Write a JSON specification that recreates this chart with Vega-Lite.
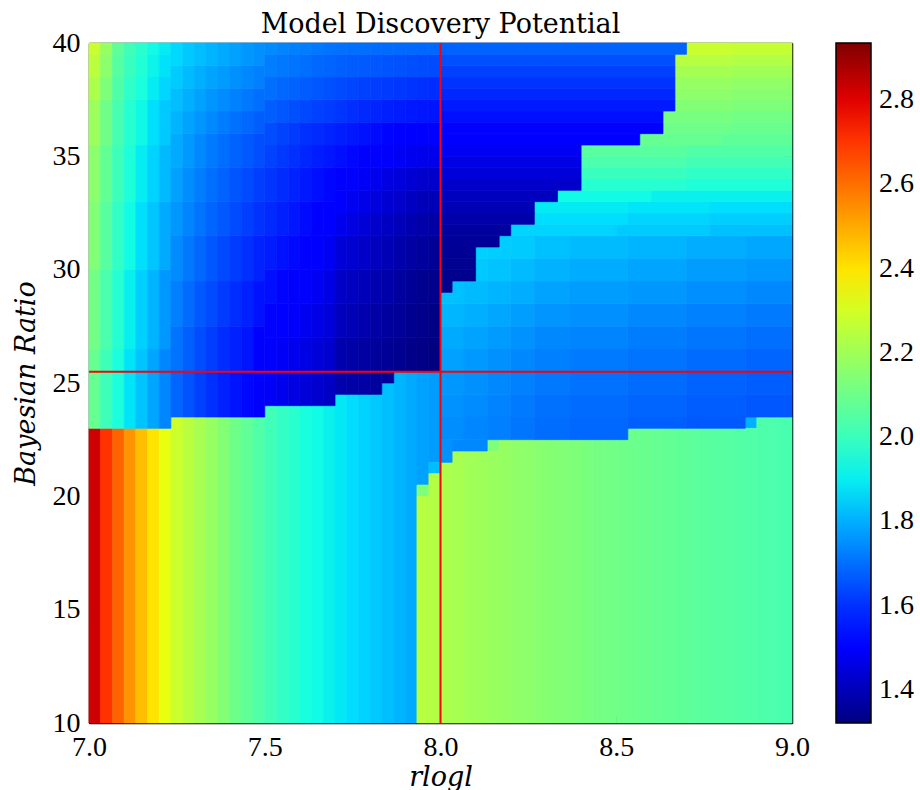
{
"$schema":"https://vega.github.io/schema/vega-lite/v6.json",
"width":703,"height":680,
"autosize":{"type":"none"},
"padding":{"left":89,"top":43,"right":128,"bottom":67},
"background":"white",
"title":{"text":"Model Discovery Potential","font":"DejaVu Serif","fontSize":27,"fontWeight":"normal","color":"black","offset":-10,"frame":"group","anchor":"middle"},
"config":{"font":"Liberation Serif","view":{"stroke":null},"axis":{"grid":false,"tickColor":"black","tickWidth":1,"tickSize":-8,"domainColor":"black","domainWidth":1.5,"labelFont":"Liberation Serif","labelFontSize":28,"labelColor":"black","titleFont":"DejaVu Serif","titleFontSize":27,"titleFontStyle":"italic","titleFontWeight":"normal","titleColor":"black","zindex":1,"labelFlush":false,"labelOverlap":false},"legend":{"labelFont":"Liberation Serif"}},
"resolve":{"axis":{"x":"independent","y":"independent"}},
"layer":[
{
"data":{"values":[
{"x":7,"x2":7.033,"y":10,"y2":23,"v":2.825},
{"x":7.033,"x2":7.067,"y":10,"y2":23,"v":2.705},
{"x":7.067,"x2":7.1,"y":10,"y2":23,"v":2.62},
{"x":7.1,"x2":7.133,"y":10,"y2":23,"v":2.537},
{"x":7.133,"x2":7.167,"y":10,"y2":23,"v":2.465},
{"x":7.167,"x2":7.2,"y":10,"y2":23,"v":2.4},
{"x":7.2,"x2":7.233,"y":10,"y2":23,"v":2.34},
{"x":7.233,"x2":7.267,"y":10,"y2":23.5,"v":2.288},
{"x":7.267,"x2":7.3,"y":10,"y2":23.5,"v":2.25},
{"x":7.3,"x2":7.333,"y":10,"y2":23.5,"v":2.211},
{"x":7.333,"x2":7.367,"y":10,"y2":23.5,"v":2.18},
{"x":7.367,"x2":7.4,"y":10,"y2":23.5,"v":2.141},
{"x":7.4,"x2":7.433,"y":10,"y2":23.5,"v":2.102},
{"x":7.433,"x2":7.467,"y":10,"y2":23.5,"v":2.073},
{"x":7.467,"x2":7.5,"y":10,"y2":23.5,"v":2.043},
{"x":7.5,"x2":7.533,"y":10,"y2":24,"v":2.014},
{"x":7.533,"x2":7.567,"y":10,"y2":24,"v":1.985},
{"x":7.567,"x2":7.6,"y":10,"y2":24,"v":1.965},
{"x":7.6,"x2":7.633,"y":10,"y2":24,"v":1.935},
{"x":7.633,"x2":7.667,"y":10,"y2":24,"v":1.92},
{"x":7.667,"x2":7.7,"y":10,"y2":24,"v":1.905},
{"x":7.7,"x2":7.733,"y":10,"y2":24.5,"v":1.89},
{"x":7.733,"x2":7.767,"y":10,"y2":24.5,"v":1.873},
{"x":7.767,"x2":7.8,"y":10,"y2":24.5,"v":1.858},
{"x":7.8,"x2":7.833,"y":10,"y2":24.5,"v":1.842},
{"x":7.833,"x2":7.867,"y":10,"y2":25,"v":1.826},
{"x":7.867,"x2":7.9,"y":10,"y2":25.5,"v":1.81},
{"x":7.9,"x2":7.933,"y":10,"y2":25.5,"v":1.793},
{"x":7.933,"x2":7.967,"y":20.5,"y2":25.5,"v":1.78},
{"x":7.967,"x2":8,"y":21.5,"y2":25.5,"v":1.77},
{"x":7.933,"x2":7.967,"y":20,"y2":20.5,"v":2.13},
{"x":7.967,"x2":8,"y":21,"y2":21.5,"v":1.825},
{"x":8.133,"x2":8.167,"y":22,"y2":22.5,"v":2.13},
{"x":8.867,"x2":8.9,"y":23,"y2":23.5,"v":1.8},
{"x":7.933,"x2":7.967,"y":10,"y2":20,"v":2.245},
{"x":7.967,"x2":8,"y":10,"y2":21,"v":2.235},
{"x":8,"x2":8.033,"y":10,"y2":21.5,"v":2.222},
{"x":8.033,"x2":8.067,"y":10,"y2":22,"v":2.213},
{"x":8.067,"x2":8.1,"y":10,"y2":22,"v":2.204},
{"x":8.1,"x2":8.133,"y":10,"y2":22,"v":2.195},
{"x":8.133,"x2":8.167,"y":10,"y2":22,"v":2.186},
{"x":8.167,"x2":8.2,"y":10,"y2":22.5,"v":2.177},
{"x":8.2,"x2":8.233,"y":10,"y2":22.5,"v":2.169},
{"x":8.233,"x2":8.267,"y":10,"y2":22.5,"v":2.161},
{"x":8.267,"x2":8.3,"y":10,"y2":22.5,"v":2.153},
{"x":8.3,"x2":8.333,"y":10,"y2":22.5,"v":2.145},
{"x":8.333,"x2":8.367,"y":10,"y2":22.5,"v":2.137},
{"x":8.367,"x2":8.4,"y":10,"y2":22.5,"v":2.13},
{"x":8.4,"x2":8.433,"y":10,"y2":22.5,"v":2.123},
{"x":8.433,"x2":8.467,"y":10,"y2":22.5,"v":2.116},
{"x":8.467,"x2":8.5,"y":10,"y2":22.5,"v":2.109},
{"x":8.5,"x2":8.533,"y":10,"y2":22.5,"v":2.102},
{"x":8.533,"x2":8.567,"y":10,"y2":23,"v":2.096},
{"x":8.567,"x2":8.6,"y":10,"y2":23,"v":2.09},
{"x":8.6,"x2":8.633,"y":10,"y2":23,"v":2.084},
{"x":8.633,"x2":8.667,"y":10,"y2":23,"v":2.078},
{"x":8.667,"x2":8.7,"y":10,"y2":23,"v":2.072},
{"x":8.7,"x2":8.733,"y":10,"y2":23,"v":2.067},
{"x":8.733,"x2":8.767,"y":10,"y2":23,"v":2.062},
{"x":8.767,"x2":8.8,"y":10,"y2":23,"v":2.057},
{"x":8.8,"x2":8.833,"y":10,"y2":23,"v":2.052},
{"x":8.833,"x2":8.867,"y":10,"y2":23,"v":2.047},
{"x":8.867,"x2":8.9,"y":10,"y2":23,"v":2.042},
{"x":8.9,"x2":8.933,"y":10,"y2":23.5,"v":2.037},
{"x":8.933,"x2":8.967,"y":10,"y2":23.5,"v":2.032},
{"x":8.967,"x2":9,"y":10,"y2":23.5,"v":2.027},
{"x":8,"x2":8.033,"y":21.5,"y2":22.5,"v":1.755},
{"x":8.033,"x2":8.133,"y":22,"y2":22.5,"v":1.74},
{"x":8,"x2":8.067,"y":22.5,"y2":23.5,"v":1.748},
{"x":8.067,"x2":8.133,"y":22.5,"y2":23.5,"v":1.736},
{"x":8.133,"x2":8.2,"y":22.5,"y2":23.5,"v":1.724},
{"x":8.2,"x2":8.267,"y":22.5,"y2":23.5,"v":1.711},
{"x":8.267,"x2":8.367,"y":22.5,"y2":23.5,"v":1.696},
{"x":8.367,"x2":8.533,"y":22.5,"y2":23.5,"v":1.687},
{"x":8.533,"x2":8.7,"y":23,"y2":23.5,"v":1.676},
{"x":8.7,"x2":8.867,"y":23,"y2":23.5,"v":1.664},
{"x":8,"x2":8.067,"y":23.5,"y2":24.5,"v":1.755},
{"x":8.067,"x2":8.133,"y":23.5,"y2":24.5,"v":1.743},
{"x":8.133,"x2":8.2,"y":23.5,"y2":24.5,"v":1.731},
{"x":8.2,"x2":8.267,"y":23.5,"y2":24.5,"v":1.718},
{"x":8.267,"x2":8.367,"y":23.5,"y2":24.5,"v":1.703},
{"x":8.367,"x2":8.533,"y":23.5,"y2":24.5,"v":1.694},
{"x":8.533,"x2":8.7,"y":23.5,"y2":24.5,"v":1.683},
{"x":8.7,"x2":8.867,"y":23.5,"y2":24.5,"v":1.671},
{"x":8.867,"x2":9,"y":23.5,"y2":24.5,"v":1.661},
{"x":8,"x2":8.067,"y":24.5,"y2":25.5,"v":1.765},
{"x":8.067,"x2":8.133,"y":24.5,"y2":25.5,"v":1.753},
{"x":8.133,"x2":8.2,"y":24.5,"y2":25.5,"v":1.741},
{"x":8.2,"x2":8.267,"y":24.5,"y2":25.5,"v":1.728},
{"x":8.267,"x2":8.367,"y":24.5,"y2":25.5,"v":1.713},
{"x":8.367,"x2":8.533,"y":24.5,"y2":25.5,"v":1.704},
{"x":8.533,"x2":8.7,"y":24.5,"y2":25.5,"v":1.693},
{"x":8.7,"x2":8.867,"y":24.5,"y2":25.5,"v":1.681},
{"x":8.867,"x2":9,"y":24.5,"y2":25.5,"v":1.671},
{"x":8,"x2":8.067,"y":25.5,"y2":26.5,"v":1.778},
{"x":8.067,"x2":8.133,"y":25.5,"y2":26.5,"v":1.766},
{"x":8.133,"x2":8.2,"y":25.5,"y2":26.5,"v":1.754},
{"x":8.2,"x2":8.267,"y":25.5,"y2":26.5,"v":1.741},
{"x":8.267,"x2":8.367,"y":25.5,"y2":26.5,"v":1.726},
{"x":8.367,"x2":8.533,"y":25.5,"y2":26.5,"v":1.717},
{"x":8.533,"x2":8.7,"y":25.5,"y2":26.5,"v":1.706},
{"x":8.7,"x2":8.867,"y":25.5,"y2":26.5,"v":1.694},
{"x":8.867,"x2":9,"y":25.5,"y2":26.5,"v":1.684},
{"x":8,"x2":8.067,"y":26.5,"y2":27.5,"v":1.793},
{"x":8.067,"x2":8.133,"y":26.5,"y2":27.5,"v":1.781},
{"x":8.133,"x2":8.2,"y":26.5,"y2":27.5,"v":1.769},
{"x":8.2,"x2":8.267,"y":26.5,"y2":27.5,"v":1.756},
{"x":8.267,"x2":8.367,"y":26.5,"y2":27.5,"v":1.741},
{"x":8.367,"x2":8.533,"y":26.5,"y2":27.5,"v":1.732},
{"x":8.533,"x2":8.7,"y":26.5,"y2":27.5,"v":1.721},
{"x":8.7,"x2":8.867,"y":26.5,"y2":27.5,"v":1.709},
{"x":8.867,"x2":9,"y":26.5,"y2":27.5,"v":1.699},
{"x":8,"x2":8.067,"y":27.5,"y2":28.5,"v":1.812},
{"x":8.067,"x2":8.133,"y":27.5,"y2":28.5,"v":1.8},
{"x":8.133,"x2":8.2,"y":27.5,"y2":28.5,"v":1.788},
{"x":8.2,"x2":8.267,"y":27.5,"y2":28.5,"v":1.775},
{"x":8.267,"x2":8.367,"y":27.5,"y2":28.5,"v":1.76},
{"x":8.367,"x2":8.533,"y":27.5,"y2":28.5,"v":1.751},
{"x":8.533,"x2":8.7,"y":27.5,"y2":28.5,"v":1.74},
{"x":8.7,"x2":8.867,"y":27.5,"y2":28.5,"v":1.728},
{"x":8.867,"x2":9,"y":27.5,"y2":28.5,"v":1.718},
{"x":8,"x2":8.033,"y":28.5,"y2":29,"v":1.83},
{"x":8.033,"x2":8.067,"y":28.5,"y2":29.5,"v":1.83},
{"x":8.067,"x2":8.133,"y":28.5,"y2":29.5,"v":1.822},
{"x":8.133,"x2":8.2,"y":28.5,"y2":29.5,"v":1.81},
{"x":8.2,"x2":8.267,"y":28.5,"y2":29.5,"v":1.797},
{"x":8.267,"x2":8.367,"y":28.5,"y2":29.5,"v":1.782},
{"x":8.367,"x2":8.533,"y":28.5,"y2":29.5,"v":1.773},
{"x":8.533,"x2":8.7,"y":28.5,"y2":29.5,"v":1.762},
{"x":8.7,"x2":8.867,"y":28.5,"y2":29.5,"v":1.75},
{"x":8.867,"x2":9,"y":28.5,"y2":29.5,"v":1.74},
{"x":8.1,"x2":8.133,"y":29.5,"y2":30.5,"v":1.842},
{"x":8.133,"x2":8.2,"y":29.5,"y2":30.5,"v":1.833},
{"x":8.2,"x2":8.267,"y":29.5,"y2":30.5,"v":1.82},
{"x":8.267,"x2":8.367,"y":29.5,"y2":30.5,"v":1.805},
{"x":8.367,"x2":8.533,"y":29.5,"y2":30.5,"v":1.796},
{"x":8.533,"x2":8.7,"y":29.5,"y2":30.5,"v":1.785},
{"x":8.7,"x2":8.867,"y":29.5,"y2":30.5,"v":1.773},
{"x":8.867,"x2":9,"y":29.5,"y2":30.5,"v":1.763},
{"x":8.1,"x2":8.133,"y":30.5,"y2":31,"v":1.855},
{"x":8.133,"x2":8.167,"y":30.5,"y2":31,"v":1.85},
{"x":8.167,"x2":8.2,"y":30.5,"y2":31.5,"v":1.848},
{"x":8.2,"x2":8.267,"y":30.5,"y2":31.5,"v":1.845},
{"x":8.267,"x2":8.367,"y":30.5,"y2":31.5,"v":1.83},
{"x":8.367,"x2":8.533,"y":30.5,"y2":31.5,"v":1.821},
{"x":8.533,"x2":8.7,"y":30.5,"y2":31.5,"v":1.81},
{"x":8.7,"x2":8.867,"y":30.5,"y2":31.5,"v":1.798},
{"x":8.867,"x2":9,"y":30.5,"y2":31.5,"v":1.788},
{"x":8.2,"x2":8.5,"y":31.5,"y2":32,"v":1.86},
{"x":8.5,"x2":8.767,"y":31.5,"y2":32,"v":1.845},
{"x":8.767,"x2":9,"y":31.5,"y2":32,"v":1.83},
{"x":8.267,"x2":8.533,"y":32,"y2":32.5,"v":1.875},
{"x":8.533,"x2":8.767,"y":32,"y2":32.5,"v":1.86},
{"x":8.767,"x2":9,"y":32,"y2":32.5,"v":1.85},
{"x":8.267,"x2":8.533,"y":32.5,"y2":33,"v":1.895},
{"x":8.533,"x2":8.767,"y":32.5,"y2":33,"v":1.885},
{"x":8.767,"x2":9,"y":32.5,"y2":33,"v":1.875},
{"x":8.333,"x2":8.6,"y":33,"y2":33.5,"v":1.92},
{"x":8.6,"x2":9,"y":33,"y2":33.5,"v":1.905},
{"x":8.4,"x2":8.7,"y":33.5,"y2":34,"v":1.96},
{"x":8.7,"x2":9,"y":33.5,"y2":34,"v":1.945},
{"x":8.4,"x2":8.7,"y":34,"y2":34.5,"v":1.995},
{"x":8.7,"x2":9,"y":34,"y2":34.5,"v":1.98},
{"x":8.4,"x2":8.7,"y":34.5,"y2":35,"v":2.03},
{"x":8.7,"x2":9,"y":34.5,"y2":35,"v":2.015},
{"x":8.4,"x2":8.7,"y":35,"y2":35.5,"v":2.06},
{"x":8.7,"x2":9,"y":35,"y2":35.5,"v":2.045},
{"x":8.567,"x2":8.8,"y":35.5,"y2":36,"v":2.085},
{"x":8.8,"x2":9,"y":35.5,"y2":36,"v":2.07},
{"x":8.633,"x2":8.833,"y":36,"y2":36.5,"v":2.1},
{"x":8.833,"x2":9,"y":36,"y2":36.5,"v":2.09},
{"x":8.633,"x2":8.833,"y":36.5,"y2":37,"v":2.12},
{"x":8.833,"x2":9,"y":36.5,"y2":37,"v":2.11},
{"x":8.667,"x2":8.833,"y":37,"y2":37.5,"v":2.14},
{"x":8.833,"x2":9,"y":37,"y2":37.5,"v":2.13},
{"x":8.667,"x2":8.833,"y":37.5,"y2":38,"v":2.16},
{"x":8.833,"x2":9,"y":37.5,"y2":38,"v":2.15},
{"x":8.667,"x2":8.833,"y":38,"y2":38.5,"v":2.18},
{"x":8.833,"x2":9,"y":38,"y2":38.5,"v":2.17},
{"x":8.667,"x2":8.833,"y":38.5,"y2":39,"v":2.21},
{"x":8.833,"x2":9,"y":38.5,"y2":39,"v":2.2},
{"x":8.667,"x2":8.833,"y":39,"y2":39.5,"v":2.245},
{"x":8.833,"x2":9,"y":39,"y2":39.5,"v":2.235},
{"x":8.7,"x2":8.833,"y":39.5,"y2":40,"v":2.28},
{"x":8.833,"x2":9,"y":39.5,"y2":40,"v":2.27},
{"x":8,"x2":8.033,"y":29,"y2":29.5,"v":1.338},
{"x":8,"x2":8.1,"y":29.5,"y2":30,"v":1.342},
{"x":8,"x2":8.1,"y":30,"y2":30.5,"v":1.346},
{"x":8,"x2":8.1,"y":30.5,"y2":31,"v":1.351},
{"x":8,"x2":8.167,"y":31,"y2":31.5,"v":1.357},
{"x":8,"x2":8.2,"y":31.5,"y2":32,"v":1.366},
{"x":8,"x2":8.267,"y":32,"y2":32.5,"v":1.38},
{"x":8,"x2":8.267,"y":32.5,"y2":33,"v":1.395},
{"x":8,"x2":8.333,"y":33,"y2":33.5,"v":1.41},
{"x":8,"x2":8.4,"y":33.5,"y2":34,"v":1.425},
{"x":8,"x2":8.4,"y":34,"y2":34.5,"v":1.445},
{"x":8,"x2":8.4,"y":34.5,"y2":35,"v":1.465},
{"x":8,"x2":8.4,"y":35,"y2":35.5,"v":1.485},
{"x":8,"x2":8.567,"y":35.5,"y2":36,"v":1.505},
{"x":8,"x2":8.633,"y":36,"y2":36.5,"v":1.525},
{"x":8,"x2":8.633,"y":36.5,"y2":37,"v":1.545},
{"x":8,"x2":8.667,"y":37,"y2":37.5,"v":1.565},
{"x":8,"x2":8.667,"y":37.5,"y2":38,"v":1.585},
{"x":8,"x2":8.667,"y":38,"y2":38.5,"v":1.605},
{"x":8,"x2":8.667,"y":38.5,"y2":39,"v":1.625},
{"x":8,"x2":8.667,"y":39,"y2":39.5,"v":1.65},
{"x":8,"x2":8.7,"y":39.5,"y2":40,"v":1.68},
{"x":7,"x2":7.033,"y":23,"y2":26.5,"v":2.085},
{"x":7,"x2":7.033,"y":26.5,"y2":30,"v":2.11},
{"x":7,"x2":7.033,"y":30,"y2":33,"v":2.136},
{"x":7,"x2":7.033,"y":33,"y2":35.5,"v":2.158},
{"x":7,"x2":7.033,"y":35.5,"y2":37.5,"v":2.19},
{"x":7,"x2":7.033,"y":37.5,"y2":38.5,"v":2.222},
{"x":7,"x2":7.033,"y":38.5,"y2":39.5,"v":2.25},
{"x":7,"x2":7.033,"y":39.5,"y2":40,"v":2.28},
{"x":7.033,"x2":7.067,"y":23,"y2":26.5,"v":2.005},
{"x":7.033,"x2":7.067,"y":26.5,"y2":30,"v":2.03},
{"x":7.033,"x2":7.067,"y":30,"y2":33,"v":2.056},
{"x":7.033,"x2":7.067,"y":33,"y2":35.5,"v":2.078},
{"x":7.033,"x2":7.067,"y":35.5,"y2":37.5,"v":2.103},
{"x":7.033,"x2":7.067,"y":37.5,"y2":38.5,"v":2.132},
{"x":7.033,"x2":7.067,"y":38.5,"y2":39.5,"v":2.158},
{"x":7.033,"x2":7.067,"y":39.5,"y2":40,"v":2.18},
{"x":7.067,"x2":7.1,"y":23,"y2":26.5,"v":1.939},
{"x":7.067,"x2":7.1,"y":26.5,"y2":30,"v":1.958},
{"x":7.067,"x2":7.1,"y":30,"y2":33,"v":1.981},
{"x":7.067,"x2":7.1,"y":33,"y2":35.5,"v":2.003},
{"x":7.067,"x2":7.1,"y":35.5,"y2":37.5,"v":2.025},
{"x":7.067,"x2":7.1,"y":37.5,"y2":38.5,"v":2.041},
{"x":7.067,"x2":7.1,"y":38.5,"y2":39.5,"v":2.055},
{"x":7.067,"x2":7.1,"y":39.5,"y2":40,"v":2.07},
{"x":7.1,"x2":7.133,"y":23,"y2":26.5,"v":1.884},
{"x":7.1,"x2":7.133,"y":26.5,"y2":30,"v":1.901},
{"x":7.1,"x2":7.133,"y":30,"y2":33,"v":1.921},
{"x":7.1,"x2":7.133,"y":33,"y2":35.5,"v":1.942},
{"x":7.1,"x2":7.133,"y":35.5,"y2":37.5,"v":1.96},
{"x":7.1,"x2":7.133,"y":37.5,"y2":38.5,"v":1.978},
{"x":7.1,"x2":7.133,"y":38.5,"y2":39.5,"v":1.995},
{"x":7.1,"x2":7.133,"y":39.5,"y2":40,"v":2.01},
{"x":7.133,"x2":7.167,"y":23,"y2":26.5,"v":1.834},
{"x":7.133,"x2":7.167,"y":26.5,"y2":30,"v":1.853},
{"x":7.133,"x2":7.167,"y":30,"y2":33,"v":1.876},
{"x":7.133,"x2":7.167,"y":33,"y2":35.5,"v":1.897},
{"x":7.133,"x2":7.167,"y":35.5,"y2":37.5,"v":1.917},
{"x":7.133,"x2":7.167,"y":37.5,"y2":38.5,"v":1.936},
{"x":7.133,"x2":7.167,"y":38.5,"y2":39.5,"v":1.95},
{"x":7.133,"x2":7.167,"y":39.5,"y2":40,"v":1.965},
{"x":7.167,"x2":7.2,"y":23,"y2":26.5,"v":1.785},
{"x":7.167,"x2":7.2,"y":26.5,"y2":30,"v":1.808},
{"x":7.167,"x2":7.2,"y":30,"y2":33,"v":1.835},
{"x":7.167,"x2":7.2,"y":33,"y2":35.5,"v":1.857},
{"x":7.167,"x2":7.2,"y":35.5,"y2":37.5,"v":1.877},
{"x":7.167,"x2":7.2,"y":37.5,"y2":38.5,"v":1.896},
{"x":7.167,"x2":7.2,"y":38.5,"y2":39.5,"v":1.909},
{"x":7.167,"x2":7.2,"y":39.5,"y2":40,"v":1.92},
{"x":7.2,"x2":7.233,"y":23,"y2":26.5,"v":1.736},
{"x":7.2,"x2":7.233,"y":26.5,"y2":30,"v":1.765},
{"x":7.2,"x2":7.233,"y":30,"y2":33,"v":1.795},
{"x":7.2,"x2":7.233,"y":33,"y2":35.5,"v":1.818},
{"x":7.2,"x2":7.233,"y":35.5,"y2":37.5,"v":1.842},
{"x":7.2,"x2":7.233,"y":37.5,"y2":38.5,"v":1.863},
{"x":7.2,"x2":7.233,"y":38.5,"y2":39.5,"v":1.88},
{"x":7.2,"x2":7.233,"y":39.5,"y2":40,"v":1.895},
{"x":7.233,"x2":7.267,"y":23.5,"y2":25.5,"v":1.685},
{"x":7.233,"x2":7.267,"y":25.5,"y2":27.5,"v":1.705},
{"x":7.233,"x2":7.267,"y":27.5,"y2":29.5,"v":1.725},
{"x":7.233,"x2":7.267,"y":29.5,"y2":31.5,"v":1.745},
{"x":7.233,"x2":7.267,"y":31.5,"y2":33,"v":1.763},
{"x":7.233,"x2":7.267,"y":33,"y2":34.5,"v":1.778},
{"x":7.233,"x2":7.267,"y":34.5,"y2":36,"v":1.793},
{"x":7.233,"x2":7.267,"y":36,"y2":37,"v":1.808},
{"x":7.233,"x2":7.267,"y":37,"y2":38,"v":1.825},
{"x":7.233,"x2":7.267,"y":38,"y2":39,"v":1.845},
{"x":7.233,"x2":7.267,"y":39,"y2":40,"v":1.867},
{"x":7.267,"x2":7.3,"y":23.5,"y2":25.5,"v":1.655},
{"x":7.267,"x2":7.3,"y":25.5,"y2":27.5,"v":1.675},
{"x":7.267,"x2":7.3,"y":27.5,"y2":29.5,"v":1.695},
{"x":7.267,"x2":7.3,"y":29.5,"y2":31.5,"v":1.715},
{"x":7.267,"x2":7.3,"y":31.5,"y2":33,"v":1.733},
{"x":7.267,"x2":7.3,"y":33,"y2":34.5,"v":1.748},
{"x":7.267,"x2":7.3,"y":34.5,"y2":36,"v":1.766},
{"x":7.267,"x2":7.3,"y":36,"y2":37,"v":1.783},
{"x":7.267,"x2":7.3,"y":37,"y2":38,"v":1.8},
{"x":7.267,"x2":7.3,"y":38,"y2":39,"v":1.82},
{"x":7.267,"x2":7.3,"y":39,"y2":40,"v":1.842},
{"x":7.3,"x2":7.333,"y":23.5,"y2":25.5,"v":1.625},
{"x":7.3,"x2":7.333,"y":25.5,"y2":27.5,"v":1.645},
{"x":7.3,"x2":7.333,"y":27.5,"y2":29.5,"v":1.665},
{"x":7.3,"x2":7.333,"y":29.5,"y2":31.5,"v":1.686},
{"x":7.3,"x2":7.333,"y":31.5,"y2":33,"v":1.708},
{"x":7.3,"x2":7.333,"y":33,"y2":34.5,"v":1.723},
{"x":7.3,"x2":7.333,"y":34.5,"y2":36,"v":1.741},
{"x":7.3,"x2":7.333,"y":36,"y2":37,"v":1.76},
{"x":7.3,"x2":7.333,"y":37,"y2":38,"v":1.78},
{"x":7.3,"x2":7.333,"y":38,"y2":39,"v":1.8},
{"x":7.3,"x2":7.333,"y":39,"y2":40,"v":1.825},
{"x":7.333,"x2":7.367,"y":23.5,"y2":25.5,"v":1.599},
{"x":7.333,"x2":7.367,"y":25.5,"y2":27.5,"v":1.62},
{"x":7.333,"x2":7.367,"y":27.5,"y2":29.5,"v":1.64},
{"x":7.333,"x2":7.367,"y":29.5,"y2":31.5,"v":1.661},
{"x":7.333,"x2":7.367,"y":31.5,"y2":33,"v":1.683},
{"x":7.333,"x2":7.367,"y":33,"y2":34.5,"v":1.698},
{"x":7.333,"x2":7.367,"y":34.5,"y2":36,"v":1.719},
{"x":7.333,"x2":7.367,"y":36,"y2":37,"v":1.74},
{"x":7.333,"x2":7.367,"y":37,"y2":38,"v":1.76},
{"x":7.333,"x2":7.367,"y":38,"y2":39,"v":1.784},
{"x":7.333,"x2":7.367,"y":39,"y2":40,"v":1.81},
{"x":7.367,"x2":7.4,"y":23.5,"y2":25.5,"v":1.576},
{"x":7.367,"x2":7.4,"y":25.5,"y2":27.5,"v":1.595},
{"x":7.367,"x2":7.4,"y":27.5,"y2":29.5,"v":1.616},
{"x":7.367,"x2":7.4,"y":29.5,"y2":31.5,"v":1.639},
{"x":7.367,"x2":7.4,"y":31.5,"y2":33,"v":1.663},
{"x":7.367,"x2":7.4,"y":33,"y2":34.5,"v":1.678},
{"x":7.367,"x2":7.4,"y":34.5,"y2":36,"v":1.699},
{"x":7.367,"x2":7.4,"y":36,"y2":37,"v":1.722},
{"x":7.367,"x2":7.4,"y":37,"y2":38,"v":1.745},
{"x":7.367,"x2":7.4,"y":38,"y2":39,"v":1.769},
{"x":7.367,"x2":7.4,"y":39,"y2":40,"v":1.794},
{"x":7.4,"x2":7.433,"y":23.5,"y2":25.5,"v":1.553},
{"x":7.4,"x2":7.433,"y":25.5,"y2":27.5,"v":1.575},
{"x":7.4,"x2":7.433,"y":27.5,"y2":29.5,"v":1.595},
{"x":7.4,"x2":7.433,"y":29.5,"y2":31.5,"v":1.618},
{"x":7.4,"x2":7.433,"y":31.5,"y2":33,"v":1.643},
{"x":7.4,"x2":7.433,"y":33,"y2":34.5,"v":1.658},
{"x":7.4,"x2":7.433,"y":34.5,"y2":36,"v":1.679},
{"x":7.4,"x2":7.433,"y":36,"y2":37,"v":1.703},
{"x":7.4,"x2":7.433,"y":37,"y2":38,"v":1.73},
{"x":7.4,"x2":7.433,"y":38,"y2":39,"v":1.754},
{"x":7.4,"x2":7.433,"y":39,"y2":40,"v":1.779},
{"x":7.433,"x2":7.467,"y":23.5,"y2":25.5,"v":1.535},
{"x":7.433,"x2":7.467,"y":25.5,"y2":27.5,"v":1.555},
{"x":7.433,"x2":7.467,"y":27.5,"y2":29.5,"v":1.575},
{"x":7.433,"x2":7.467,"y":29.5,"y2":31.5,"v":1.598},
{"x":7.433,"x2":7.467,"y":31.5,"y2":33,"v":1.623},
{"x":7.433,"x2":7.467,"y":33,"y2":34.5,"v":1.642},
{"x":7.433,"x2":7.467,"y":34.5,"y2":36,"v":1.664},
{"x":7.433,"x2":7.467,"y":36,"y2":37,"v":1.688},
{"x":7.433,"x2":7.467,"y":37,"y2":38,"v":1.715},
{"x":7.433,"x2":7.467,"y":38,"y2":39,"v":1.739},
{"x":7.433,"x2":7.467,"y":39,"y2":40,"v":1.764},
{"x":7.467,"x2":7.5,"y":23.5,"y2":25.5,"v":1.497},
{"x":7.467,"x2":7.5,"y":25.5,"y2":27.5,"v":1.523},
{"x":7.467,"x2":7.5,"y":27.5,"y2":29.5,"v":1.55},
{"x":7.467,"x2":7.5,"y":29.5,"y2":31.5,"v":1.578},
{"x":7.467,"x2":7.5,"y":31.5,"y2":33,"v":1.603},
{"x":7.467,"x2":7.5,"y":33,"y2":34.5,"v":1.622},
{"x":7.467,"x2":7.5,"y":34.5,"y2":36,"v":1.647},
{"x":7.467,"x2":7.5,"y":36,"y2":37,"v":1.673},
{"x":7.467,"x2":7.5,"y":37,"y2":38,"v":1.7},
{"x":7.467,"x2":7.5,"y":38,"y2":39,"v":1.724},
{"x":7.467,"x2":7.5,"y":39,"y2":40,"v":1.751},
{"x":7.5,"x2":7.533,"y":24,"y2":25.5,"v":1.489},
{"x":7.5,"x2":7.533,"y":25.5,"y2":27,"v":1.506},
{"x":7.5,"x2":7.533,"y":27,"y2":28.5,"v":1.525},
{"x":7.5,"x2":7.533,"y":28.5,"y2":30,"v":1.545},
{"x":7.5,"x2":7.533,"y":30,"y2":31.5,"v":1.566},
{"x":7.5,"x2":7.533,"y":31.5,"y2":33,"v":1.588},
{"x":7.5,"x2":7.533,"y":33,"y2":34.5,"v":1.607},
{"x":7.5,"x2":7.533,"y":34.5,"y2":35.5,"v":1.628},
{"x":7.5,"x2":7.533,"y":35.5,"y2":36.5,"v":1.645},
{"x":7.5,"x2":7.533,"y":36.5,"y2":37.5,"v":1.672},
{"x":7.5,"x2":7.533,"y":37.5,"y2":38.5,"v":1.697},
{"x":7.5,"x2":7.533,"y":38.5,"y2":39.5,"v":1.723},
{"x":7.5,"x2":7.533,"y":39.5,"y2":40,"v":1.745},
{"x":7.533,"x2":7.567,"y":24,"y2":25.5,"v":1.474},
{"x":7.533,"x2":7.567,"y":25.5,"y2":27,"v":1.491},
{"x":7.533,"x2":7.567,"y":27,"y2":28.5,"v":1.51},
{"x":7.533,"x2":7.567,"y":28.5,"y2":30,"v":1.53},
{"x":7.533,"x2":7.567,"y":30,"y2":31.5,"v":1.551},
{"x":7.533,"x2":7.567,"y":31.5,"y2":33,"v":1.573},
{"x":7.533,"x2":7.567,"y":33,"y2":34.5,"v":1.592},
{"x":7.533,"x2":7.567,"y":34.5,"y2":35.5,"v":1.613},
{"x":7.533,"x2":7.567,"y":35.5,"y2":36.5,"v":1.63},
{"x":7.533,"x2":7.567,"y":36.5,"y2":37.5,"v":1.66},
{"x":7.533,"x2":7.567,"y":37.5,"y2":38.5,"v":1.687},
{"x":7.533,"x2":7.567,"y":38.5,"y2":39.5,"v":1.713},
{"x":7.533,"x2":7.567,"y":39.5,"y2":40,"v":1.735},
{"x":7.567,"x2":7.6,"y":24,"y2":25.5,"v":1.459},
{"x":7.567,"x2":7.6,"y":25.5,"y2":27,"v":1.476},
{"x":7.567,"x2":7.6,"y":27,"y2":28.5,"v":1.495},
{"x":7.567,"x2":7.6,"y":28.5,"y2":30,"v":1.515},
{"x":7.567,"x2":7.6,"y":30,"y2":31.5,"v":1.536},
{"x":7.567,"x2":7.6,"y":31.5,"y2":33,"v":1.558},
{"x":7.567,"x2":7.6,"y":33,"y2":34.5,"v":1.577},
{"x":7.567,"x2":7.6,"y":34.5,"y2":35.5,"v":1.598},
{"x":7.567,"x2":7.6,"y":35.5,"y2":36.5,"v":1.615},
{"x":7.567,"x2":7.6,"y":36.5,"y2":37.5,"v":1.648},
{"x":7.567,"x2":7.6,"y":37.5,"y2":38.5,"v":1.678},
{"x":7.567,"x2":7.6,"y":38.5,"y2":39.5,"v":1.705},
{"x":7.567,"x2":7.6,"y":39.5,"y2":40,"v":1.727},
{"x":7.6,"x2":7.633,"y":24,"y2":25.5,"v":1.445},
{"x":7.6,"x2":7.633,"y":25.5,"y2":27,"v":1.462},
{"x":7.6,"x2":7.633,"y":27,"y2":28.5,"v":1.479},
{"x":7.6,"x2":7.633,"y":28.5,"y2":30,"v":1.496},
{"x":7.6,"x2":7.633,"y":30,"y2":31.5,"v":1.516},
{"x":7.6,"x2":7.633,"y":31.5,"y2":33,"v":1.539},
{"x":7.6,"x2":7.633,"y":33,"y2":34.5,"v":1.561},
{"x":7.6,"x2":7.633,"y":34.5,"y2":35.5,"v":1.583},
{"x":7.6,"x2":7.633,"y":35.5,"y2":36.5,"v":1.6},
{"x":7.6,"x2":7.633,"y":36.5,"y2":37.5,"v":1.637},
{"x":7.6,"x2":7.633,"y":37.5,"y2":38.5,"v":1.669},
{"x":7.6,"x2":7.633,"y":38.5,"y2":39.5,"v":1.698},
{"x":7.6,"x2":7.633,"y":39.5,"y2":40,"v":1.72},
{"x":7.633,"x2":7.667,"y":24,"y2":25.5,"v":1.431},
{"x":7.633,"x2":7.667,"y":25.5,"y2":27,"v":1.447},
{"x":7.633,"x2":7.667,"y":27,"y2":28.5,"v":1.464},
{"x":7.633,"x2":7.667,"y":28.5,"y2":30,"v":1.481},
{"x":7.633,"x2":7.667,"y":30,"y2":31.5,"v":1.501},
{"x":7.633,"x2":7.667,"y":31.5,"y2":33,"v":1.524},
{"x":7.633,"x2":7.667,"y":33,"y2":34.5,"v":1.546},
{"x":7.633,"x2":7.667,"y":34.5,"y2":35.5,"v":1.57},
{"x":7.633,"x2":7.667,"y":35.5,"y2":36.5,"v":1.59},
{"x":7.633,"x2":7.667,"y":36.5,"y2":37.5,"v":1.627},
{"x":7.633,"x2":7.667,"y":37.5,"y2":38.5,"v":1.659},
{"x":7.633,"x2":7.667,"y":38.5,"y2":39.5,"v":1.688},
{"x":7.633,"x2":7.667,"y":39.5,"y2":40,"v":1.713},
{"x":7.667,"x2":7.7,"y":24,"y2":25.5,"v":1.418},
{"x":7.667,"x2":7.7,"y":25.5,"y2":27,"v":1.433},
{"x":7.667,"x2":7.7,"y":27,"y2":28.5,"v":1.448},
{"x":7.667,"x2":7.7,"y":28.5,"y2":30,"v":1.463},
{"x":7.667,"x2":7.7,"y":30,"y2":31.5,"v":1.481},
{"x":7.667,"x2":7.7,"y":31.5,"y2":33,"v":1.504},
{"x":7.667,"x2":7.7,"y":33,"y2":34.5,"v":1.531},
{"x":7.667,"x2":7.7,"y":34.5,"y2":35.5,"v":1.558},
{"x":7.667,"x2":7.7,"y":35.5,"y2":36.5,"v":1.58},
{"x":7.667,"x2":7.7,"y":36.5,"y2":37.5,"v":1.617},
{"x":7.667,"x2":7.7,"y":37.5,"y2":38.5,"v":1.651},
{"x":7.667,"x2":7.7,"y":38.5,"y2":39.5,"v":1.683},
{"x":7.667,"x2":7.7,"y":39.5,"y2":40,"v":1.707},
{"x":7.7,"x2":7.733,"y":24.5,"y2":25.5,"v":1.385},
{"x":7.7,"x2":7.733,"y":25.5,"y2":27,"v":1.388},
{"x":7.7,"x2":7.733,"y":27,"y2":28.5,"v":1.408},
{"x":7.7,"x2":7.733,"y":28.5,"y2":30,"v":1.423},
{"x":7.7,"x2":7.733,"y":30,"y2":31.5,"v":1.447},
{"x":7.7,"x2":7.733,"y":31.5,"y2":32.5,"v":1.475},
{"x":7.7,"x2":7.733,"y":32.5,"y2":33.5,"v":1.498},
{"x":7.7,"x2":7.733,"y":33.5,"y2":34.5,"v":1.52},
{"x":7.7,"x2":7.733,"y":34.5,"y2":35.5,"v":1.545},
{"x":7.7,"x2":7.733,"y":35.5,"y2":36.5,"v":1.57},
{"x":7.7,"x2":7.733,"y":36.5,"y2":37.5,"v":1.607},
{"x":7.7,"x2":7.733,"y":37.5,"y2":38.5,"v":1.641},
{"x":7.7,"x2":7.733,"y":38.5,"y2":39.5,"v":1.675},
{"x":7.7,"x2":7.733,"y":39.5,"y2":40,"v":1.703},
{"x":7.733,"x2":7.767,"y":24.5,"y2":25.5,"v":1.378},
{"x":7.733,"x2":7.767,"y":25.5,"y2":27,"v":1.379},
{"x":7.733,"x2":7.767,"y":27,"y2":28.5,"v":1.398},
{"x":7.733,"x2":7.767,"y":28.5,"y2":30,"v":1.413},
{"x":7.733,"x2":7.767,"y":30,"y2":31.5,"v":1.435},
{"x":7.733,"x2":7.767,"y":31.5,"y2":32.5,"v":1.46},
{"x":7.733,"x2":7.767,"y":32.5,"y2":33.5,"v":1.483},
{"x":7.733,"x2":7.767,"y":33.5,"y2":34.5,"v":1.505},
{"x":7.733,"x2":7.767,"y":34.5,"y2":35.5,"v":1.533},
{"x":7.733,"x2":7.767,"y":35.5,"y2":36.5,"v":1.56},
{"x":7.733,"x2":7.767,"y":36.5,"y2":37.5,"v":1.597},
{"x":7.733,"x2":7.767,"y":37.5,"y2":38.5,"v":1.633},
{"x":7.733,"x2":7.767,"y":38.5,"y2":39.5,"v":1.67},
{"x":7.733,"x2":7.767,"y":39.5,"y2":40,"v":1.7},
{"x":7.767,"x2":7.8,"y":24.5,"y2":25.5,"v":1.372},
{"x":7.767,"x2":7.8,"y":25.5,"y2":27,"v":1.371},
{"x":7.767,"x2":7.8,"y":27,"y2":28.5,"v":1.388},
{"x":7.767,"x2":7.8,"y":28.5,"y2":30,"v":1.403},
{"x":7.767,"x2":7.8,"y":30,"y2":31.5,"v":1.423},
{"x":7.767,"x2":7.8,"y":31.5,"y2":32.5,"v":1.445},
{"x":7.767,"x2":7.8,"y":32.5,"y2":33.5,"v":1.468},
{"x":7.767,"x2":7.8,"y":33.5,"y2":34.5,"v":1.49},
{"x":7.767,"x2":7.8,"y":34.5,"y2":35.5,"v":1.52},
{"x":7.767,"x2":7.8,"y":35.5,"y2":36.5,"v":1.55},
{"x":7.767,"x2":7.8,"y":36.5,"y2":37.5,"v":1.587},
{"x":7.767,"x2":7.8,"y":37.5,"y2":38.5,"v":1.625},
{"x":7.767,"x2":7.8,"y":38.5,"y2":39.5,"v":1.666},
{"x":7.767,"x2":7.8,"y":39.5,"y2":40,"v":1.697},
{"x":7.8,"x2":7.833,"y":24.5,"y2":25.5,"v":1.366},
{"x":7.8,"x2":7.833,"y":25.5,"y2":27,"v":1.363},
{"x":7.8,"x2":7.833,"y":27,"y2":28.5,"v":1.376},
{"x":7.8,"x2":7.833,"y":28.5,"y2":30,"v":1.389},
{"x":7.8,"x2":7.833,"y":30,"y2":31.5,"v":1.408},
{"x":7.8,"x2":7.833,"y":31.5,"y2":32.5,"v":1.43},
{"x":7.8,"x2":7.833,"y":32.5,"y2":33.5,"v":1.453},
{"x":7.8,"x2":7.833,"y":33.5,"y2":34.5,"v":1.475},
{"x":7.8,"x2":7.833,"y":34.5,"y2":35.5,"v":1.508},
{"x":7.8,"x2":7.833,"y":35.5,"y2":36.5,"v":1.54},
{"x":7.8,"x2":7.833,"y":36.5,"y2":37.5,"v":1.58},
{"x":7.8,"x2":7.833,"y":37.5,"y2":38.5,"v":1.62},
{"x":7.8,"x2":7.833,"y":38.5,"y2":39.5,"v":1.661},
{"x":7.8,"x2":7.833,"y":39.5,"y2":40,"v":1.695},
{"x":7.833,"x2":7.867,"y":25,"y2":25.5,"v":1.355},
{"x":7.833,"x2":7.867,"y":25.5,"y2":27,"v":1.354},
{"x":7.833,"x2":7.867,"y":27,"y2":28.5,"v":1.366},
{"x":7.833,"x2":7.867,"y":28.5,"y2":30,"v":1.379},
{"x":7.833,"x2":7.867,"y":30,"y2":31.5,"v":1.396},
{"x":7.833,"x2":7.867,"y":31.5,"y2":32.5,"v":1.415},
{"x":7.833,"x2":7.867,"y":32.5,"y2":33.5,"v":1.438},
{"x":7.833,"x2":7.867,"y":33.5,"y2":34.5,"v":1.46},
{"x":7.833,"x2":7.867,"y":34.5,"y2":35.5,"v":1.495},
{"x":7.833,"x2":7.867,"y":35.5,"y2":36.5,"v":1.53},
{"x":7.833,"x2":7.867,"y":36.5,"y2":37.5,"v":1.573},
{"x":7.833,"x2":7.867,"y":37.5,"y2":38.5,"v":1.615},
{"x":7.833,"x2":7.867,"y":38.5,"y2":39.5,"v":1.657},
{"x":7.833,"x2":7.867,"y":39.5,"y2":40,"v":1.693},
{"x":7.867,"x2":7.9,"y":25.5,"y2":27,"v":1.345},
{"x":7.867,"x2":7.9,"y":27,"y2":28.5,"v":1.355},
{"x":7.867,"x2":7.9,"y":28.5,"y2":30,"v":1.365},
{"x":7.867,"x2":7.9,"y":30,"y2":31.5,"v":1.381},
{"x":7.867,"x2":7.9,"y":31.5,"y2":32.5,"v":1.4},
{"x":7.867,"x2":7.9,"y":32.5,"y2":33.5,"v":1.425},
{"x":7.867,"x2":7.9,"y":33.5,"y2":34.5,"v":1.45},
{"x":7.867,"x2":7.9,"y":34.5,"y2":35.5,"v":1.485},
{"x":7.867,"x2":7.9,"y":35.5,"y2":36.5,"v":1.52},
{"x":7.867,"x2":7.9,"y":36.5,"y2":37.5,"v":1.567},
{"x":7.867,"x2":7.9,"y":37.5,"y2":38.5,"v":1.61},
{"x":7.867,"x2":7.9,"y":38.5,"y2":39.5,"v":1.653},
{"x":7.867,"x2":7.9,"y":39.5,"y2":40,"v":1.691},
{"x":7.9,"x2":7.933,"y":25.5,"y2":27,"v":1.337},
{"x":7.9,"x2":7.933,"y":27,"y2":28.5,"v":1.345},
{"x":7.9,"x2":7.933,"y":28.5,"y2":30,"v":1.355},
{"x":7.9,"x2":7.933,"y":30,"y2":31.5,"v":1.371},
{"x":7.9,"x2":7.933,"y":31.5,"y2":32.5,"v":1.39},
{"x":7.9,"x2":7.933,"y":32.5,"y2":33.5,"v":1.415},
{"x":7.9,"x2":7.933,"y":33.5,"y2":34.5,"v":1.44},
{"x":7.9,"x2":7.933,"y":34.5,"y2":35.5,"v":1.478},
{"x":7.9,"x2":7.933,"y":35.5,"y2":36.5,"v":1.515},
{"x":7.9,"x2":7.933,"y":36.5,"y2":37.5,"v":1.562},
{"x":7.9,"x2":7.933,"y":37.5,"y2":38.5,"v":1.605},
{"x":7.9,"x2":7.933,"y":38.5,"y2":39.5,"v":1.649},
{"x":7.9,"x2":7.933,"y":39.5,"y2":40,"v":1.69},
{"x":7.933,"x2":7.967,"y":25.5,"y2":27,"v":1.331},
{"x":7.933,"x2":7.967,"y":27,"y2":28.5,"v":1.339},
{"x":7.933,"x2":7.967,"y":28.5,"y2":30,"v":1.346},
{"x":7.933,"x2":7.967,"y":30,"y2":31.5,"v":1.361},
{"x":7.933,"x2":7.967,"y":31.5,"y2":32.5,"v":1.38},
{"x":7.933,"x2":7.967,"y":32.5,"y2":33.5,"v":1.405},
{"x":7.933,"x2":7.967,"y":33.5,"y2":34.5,"v":1.43},
{"x":7.933,"x2":7.967,"y":34.5,"y2":35.5,"v":1.473},
{"x":7.933,"x2":7.967,"y":35.5,"y2":36.5,"v":1.515},
{"x":7.933,"x2":7.967,"y":36.5,"y2":37.5,"v":1.558},
{"x":7.933,"x2":7.967,"y":37.5,"y2":38.5,"v":1.6},
{"x":7.933,"x2":7.967,"y":38.5,"y2":39.5,"v":1.645},
{"x":7.933,"x2":7.967,"y":39.5,"y2":40,"v":1.689},
{"x":7.967,"x2":8,"y":25.5,"y2":27,"v":1.322},
{"x":7.967,"x2":8,"y":27,"y2":28.5,"v":1.332},
{"x":7.967,"x2":8,"y":28.5,"y2":30,"v":1.339},
{"x":7.967,"x2":8,"y":30,"y2":31.5,"v":1.353},
{"x":7.967,"x2":8,"y":31.5,"y2":32.5,"v":1.372},
{"x":7.967,"x2":8,"y":32.5,"y2":33.5,"v":1.399},
{"x":7.967,"x2":8,"y":33.5,"y2":34.5,"v":1.425},
{"x":7.967,"x2":8,"y":34.5,"y2":35.5,"v":1.47},
{"x":7.967,"x2":8,"y":35.5,"y2":36.5,"v":1.515},
{"x":7.967,"x2":8,"y":36.5,"y2":37.5,"v":1.555},
{"x":7.967,"x2":8,"y":37.5,"y2":38.5,"v":1.595},
{"x":7.967,"x2":8,"y":38.5,"y2":39.5,"v":1.641},
{"x":7.967,"x2":8,"y":39.5,"y2":40,"v":1.688}
]},
"mark":{"type":"rect","strokeWidth":0.7,"stroke":{"expr":"scale('color', datum.v)"}},
"encoding":{
"x":{"field":"x","type":"quantitative","scale":{"domain":[7,9],"nice":false,"zero":false},"axis":{"orient":"bottom","values":[7,7.5,8,8.5,9],"format":".1f","labelFont":"Liberation Serif","labelPadding":18,"title":"rlogl","titlePadding":3}},
"x2":{"field":"x2"},
"y":{"field":"y","type":"quantitative","scale":{"domain":[10,40],"nice":false,"zero":false},"axis":{"orient":"left","values":[10,15,20,25,30,35,40],"format":"d","labelFont":"Liberation Serif","labelPadding":17,"title":"Bayesian Ratio","titlePadding":12}},
"y2":{"field":"y2"},
"color":{"field":"v","type":"quantitative","scale":{"type":"linear","domain":[1.322,1.4994,1.5236,1.8704,1.8866,1.9269,2.3543,2.3705,2.3866,2.7576,2.7898,2.935],"range":["#000080","#0000ff","#0000ff","#00dbff","#00e6f7","#15ffe2","#efff08","#f7f600","#ffec00","#ff1300","#e80000","#800000"],"interpolate":"rgb"},"legend":{"type":"gradient","orient":"right","offset":43,"direction":"vertical","gradientLength":680,"gradientThickness":35,"gradientStrokeColor":"black","gradientStrokeWidth":1.5,"labelFont":"Liberation Serif","labelFontSize":28,"labelColor":"black","labelOffset":8,"values":[1.4,1.6,1.8,2.0,2.2,2.4,2.6,2.8],"format":".1f","title":null,"labelOverlap":false,"padding":0}}
}
},
{
"data":{"values":[{"x":8}]},
"mark":{"type":"rule","color":"#ff0000","strokeWidth":2},
"encoding":{"x":{"field":"x","type":"quantitative","axis":{"orient":"top","values":[7,7.5,8,8.5,9],"labels":false,"title":null}}}
},
{
"data":{"values":[{"y":25.5}]},
"mark":{"type":"rule","color":"#ff0000","strokeWidth":2},
"encoding":{"y":{"field":"y","type":"quantitative","axis":{"orient":"right","values":[10,15,20,25,30,35,40],"labels":false,"title":null}}}
}
]
}
